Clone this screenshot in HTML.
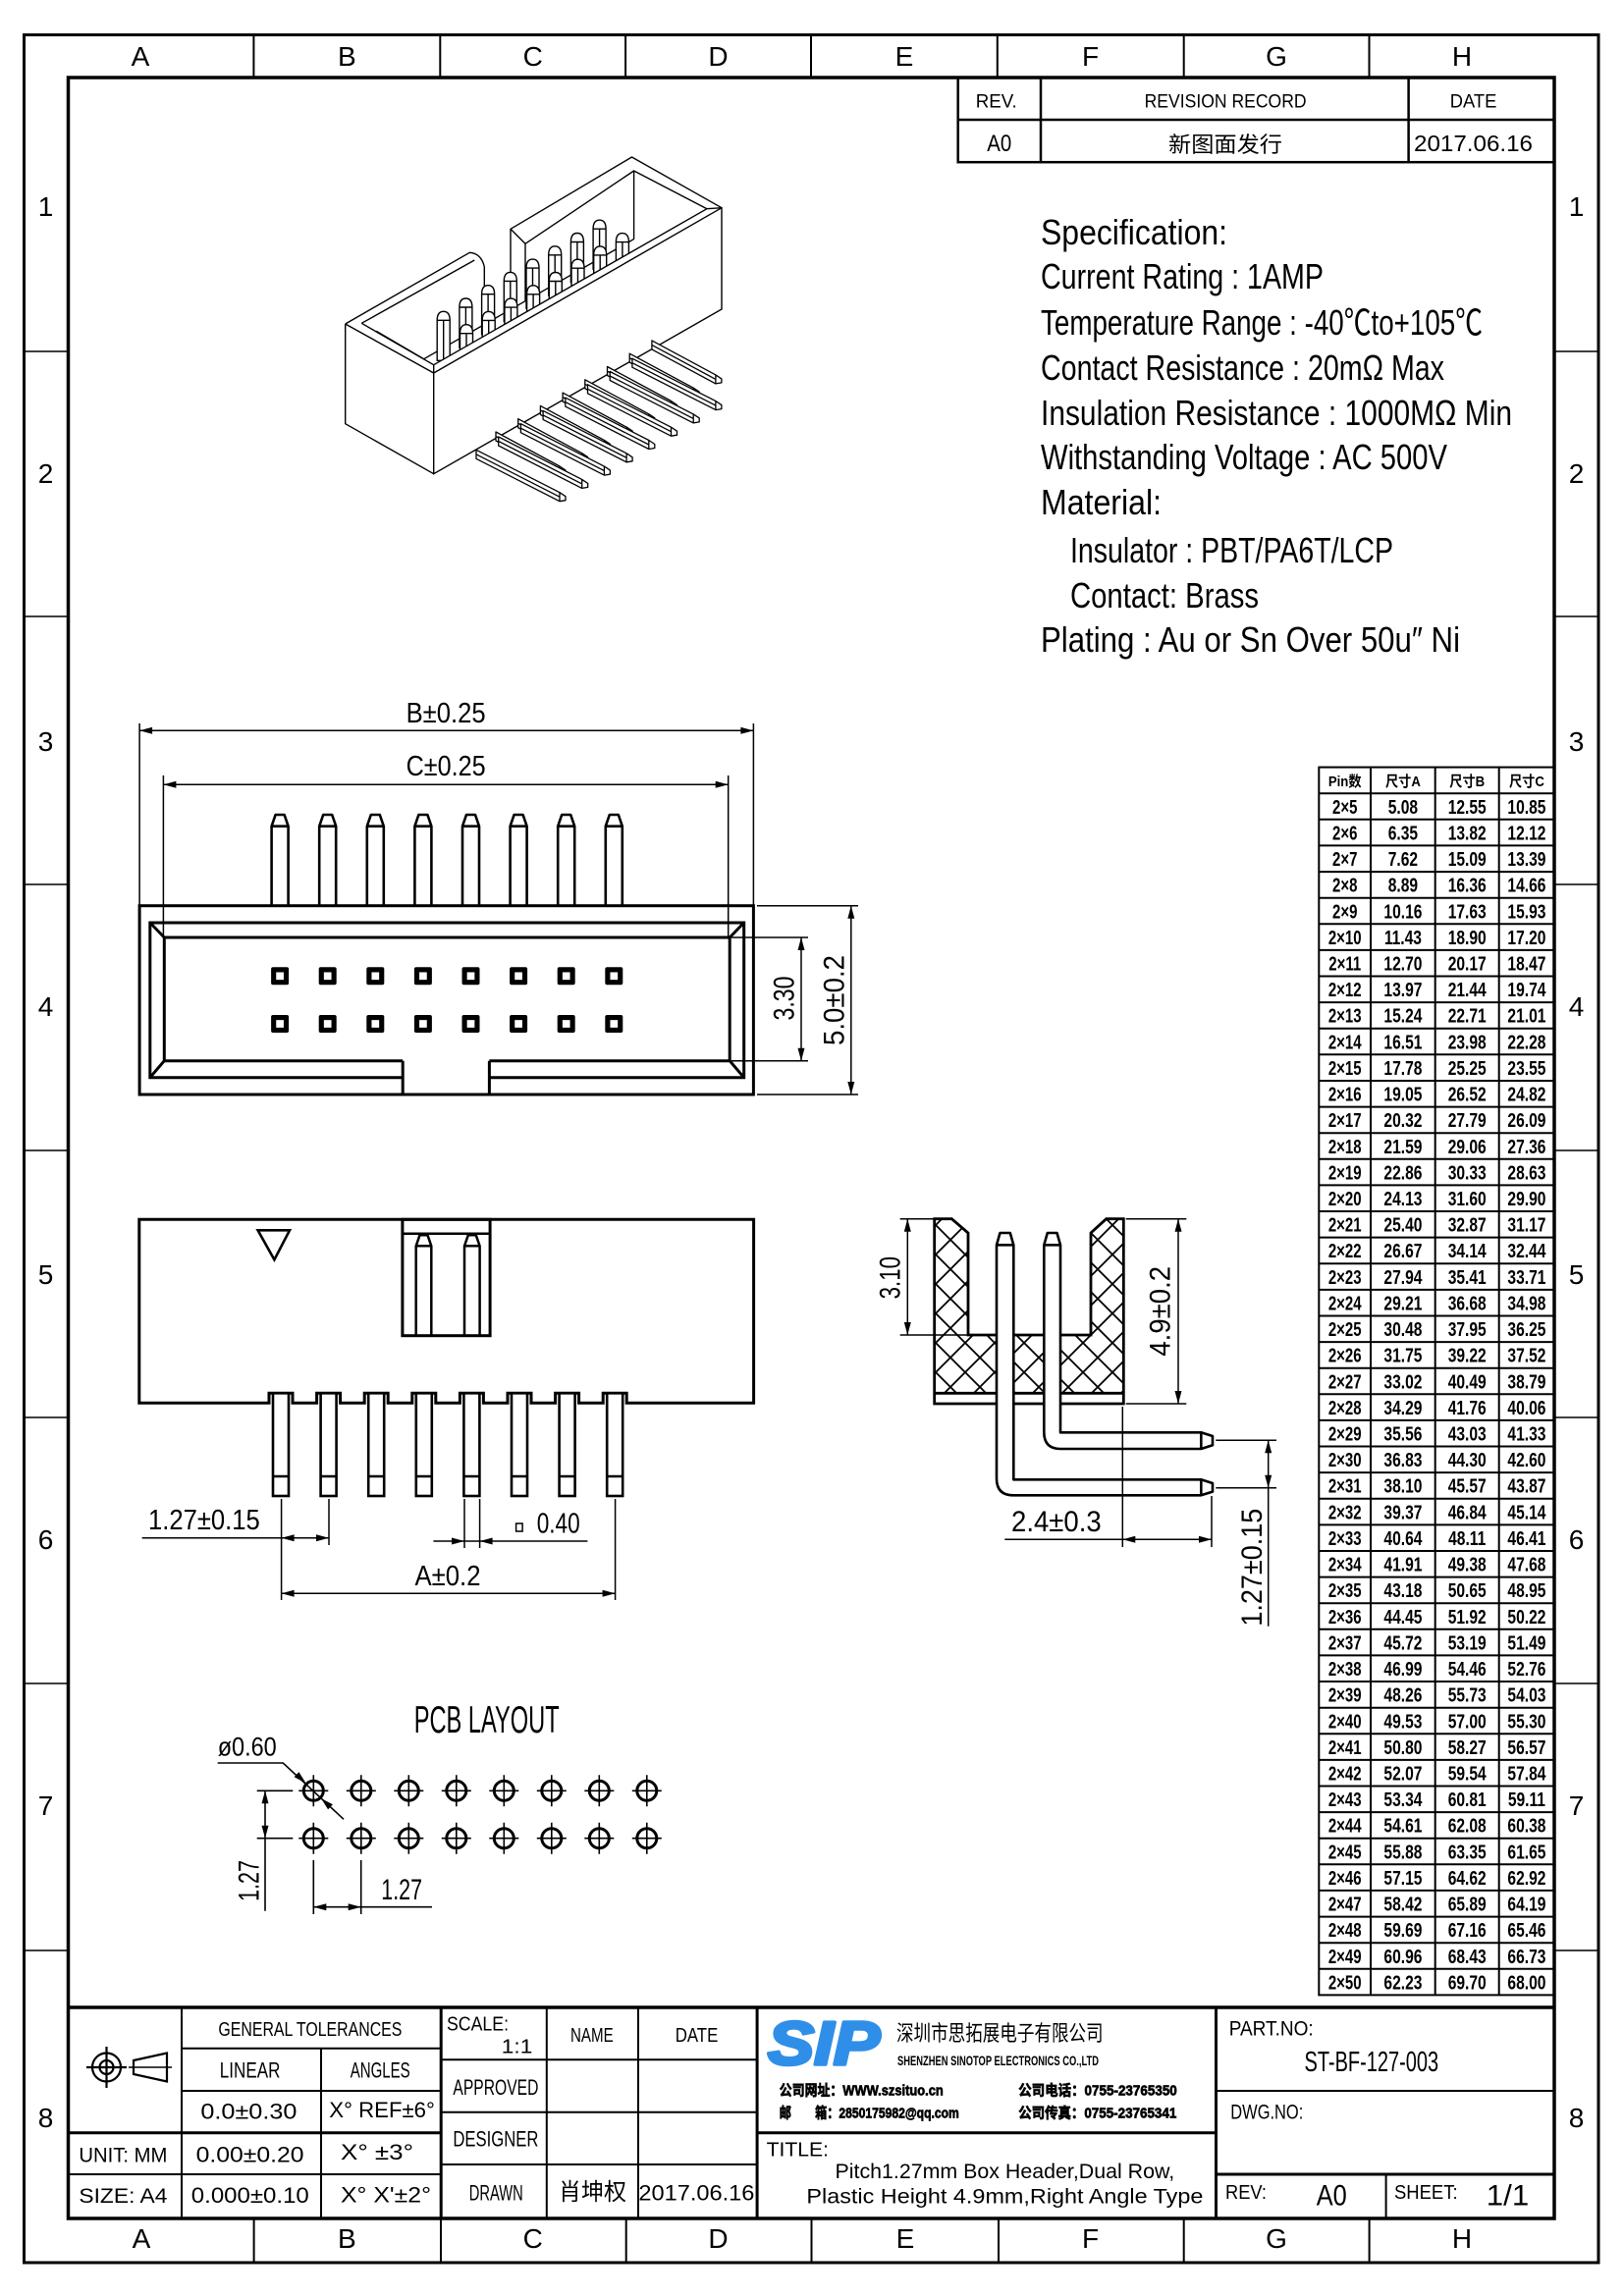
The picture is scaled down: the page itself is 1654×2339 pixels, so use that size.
<!DOCTYPE html>
<html><head><meta charset="utf-8"><style>
html,body{margin:0;padding:0;background:#fff;}
svg{display:block;}
text{font-family:"Liberation Sans","Noto Sans CJK SC",sans-serif;fill:#000;}
</style></head><body>
<svg xmlns="http://www.w3.org/2000/svg" width="1654" height="2339" viewBox="0 0 1654 2339">
<rect width="1654" height="2339" fill="#fff"/>

<!-- FRAME -->
<g fill="none" stroke="#000">
<rect x="24.5" y="35.5" width="1603.5" height="2269.5" stroke-width="3"/>
<rect x="69.5" y="79" width="1513.5" height="2181" stroke-width="3.5"/>
<path stroke-width="2" d="M258.4,35.5V79M448.3,35.5V79M637.1,35.5V79M826,35.5V79M1015.8,35.5V79M1205.7,35.5V79M1394.5,35.5V79
M258.6,2260V2305M449,2260V2305M637.7,2260V2305M826.5,2260V2305M1017,2260V2305M1205.7,2260V2305M1394.6,2260V2305"/>
<path stroke-width="1.6" d="M24.5,358H69.5M24.5,628H69.5M24.5,901H69.5M24.5,1172H69.5M24.5,1444H69.5M24.5,1715H69.5M24.5,1987H69.5
M1583,358H1628M1583,628H1628M1583,901H1628M1583,1172H1628M1583,1444H1628M1583,1715H1628M1583,1987H1628"/>
</g>
<g font-size="28" text-anchor="middle">
<text x="143" y="67">A</text><text x="353.4" y="67">B</text><text x="542.7" y="67">C</text><text x="731.5" y="67">D</text>
<text x="921" y="67">E</text><text x="1110.5" y="67">F</text><text x="1300" y="67">G</text><text x="1489" y="67">H</text>
<text x="144" y="2290">A</text><text x="353.4" y="2290">B</text><text x="542.7" y="2290">C</text><text x="731.5" y="2290">D</text>
<text x="922" y="2290">E</text><text x="1110.5" y="2290">F</text><text x="1300" y="2290">G</text><text x="1489" y="2290">H</text>
<text x="46.5" y="220">1</text><text x="46.5" y="492">2</text><text x="46.5" y="765">3</text><text x="46.5" y="1035">4</text>
<text x="46.5" y="1308">5</text><text x="46.5" y="1578">6</text><text x="46.5" y="1849">7</text><text x="46.5" y="2167">8</text>
<text x="1605.5" y="220">1</text><text x="1605.5" y="492">2</text><text x="1605.5" y="765">3</text><text x="1605.5" y="1035">4</text>
<text x="1605.5" y="1308">5</text><text x="1605.5" y="1578">6</text><text x="1605.5" y="1849">7</text><text x="1605.5" y="2167">8</text>
</g>

<!-- REVISION TABLE -->
<g fill="none" stroke="#000" stroke-width="2.5">
<rect x="975.7" y="79" width="607.3" height="86.2"/>
<path d="M975.7,122H1583M1060,79V165.2M1434.6,79V165.2"/>
</g>
<text x="993.7" y="109.4" font-size="19" textLength="42" lengthAdjust="spacingAndGlyphs">REV.</text>
<text x="1165.6" y="109.4" font-size="19" textLength="165" lengthAdjust="spacingAndGlyphs">REVISION RECORD</text>
<text x="1476.8" y="109.4" font-size="19" textLength="47.5" lengthAdjust="spacingAndGlyphs">DATE</text>
<text x="1005.3" y="154" font-size="24" textLength="25" lengthAdjust="spacingAndGlyphs">A0</text>
<text x="1190" y="155" font-size="22" textLength="116" lengthAdjust="spacingAndGlyphs">新图面发行</text>
<text x="1440" y="154" font-size="23" textLength="121" lengthAdjust="spacingAndGlyphs">2017.06.16</text>

<!-- SPECIFICATION -->
<g font-size="36">
<text x="1060" y="249" textLength="190" lengthAdjust="spacingAndGlyphs">Specification:</text>
<text x="1060" y="294" textLength="288" lengthAdjust="spacingAndGlyphs">Current Rating : 1AMP</text>
<text x="1060" y="341" textLength="450" lengthAdjust="spacingAndGlyphs">Temperature Range : -40℃to+105℃</text>
<text x="1060" y="387" textLength="411" lengthAdjust="spacingAndGlyphs">Contact Resistance : 20mΩ Max</text>
<text x="1060" y="433" textLength="480" lengthAdjust="spacingAndGlyphs">Insulation Resistance : 1000MΩ Min</text>
<text x="1060" y="478" textLength="414" lengthAdjust="spacingAndGlyphs">Withstanding Voltage : AC 500V</text>
<text x="1060" y="524" textLength="123" lengthAdjust="spacingAndGlyphs">Material:</text>
<text x="1090" y="573" textLength="329" lengthAdjust="spacingAndGlyphs">Insulator : PBT/PA6T/LCP</text>
<text x="1090" y="619" textLength="192" lengthAdjust="spacingAndGlyphs">Contact: Brass</text>
<text x="1060" y="664" textLength="427" lengthAdjust="spacingAndGlyphs">Plating : Au or Sn Over 50u″ Ni</text>
</g>

<!-- ISOMETRIC VIEW -->
<g fill="none" stroke="#000" stroke-width="1.4" stroke-linejoin="round">
<path d="M520,280V233.3L643.5,160L735,211.7M520,233.3L535,248.3V306.7M535,248.3L645.6,174L720,212.7M645.6,174V243.3M431.7,365.7L646,243.3"/>
<path d="M351.7,330L478.3,257.3Q490,258 493.3,271.7V296M368.3,329.3L483.3,265M368.3,329.3L441.7,371.7M383.3,337.3L431.7,365.7"/>
<path d="M351.7,330L441.7,380M351.7,330V431.7L441.7,482.7"/>
</g>
<g fill="#fff" stroke="#000" stroke-width="1.4">
<path d="M445.2,367.3V326.3Q445.2,317.3 451.7,317.3Q458.2,317.3 458.2,326.3V367.3ZM445.2,326.3H458.2M451.7,326.3V367.3"/>
<path d="M467.9,354V313Q467.9,304 474.4,304Q480.9,304 480.9,313V354ZM467.9,313H480.9M474.4,313V354"/>
<path d="M490.6,340.7V299.7Q490.6,290.7 497.1,290.7Q503.6,290.7 503.6,299.7V340.7ZM490.6,299.7H503.6M497.1,299.7V340.7"/>
<path d="M513.3,327.4V286.4Q513.3,277.4 519.8,277.4Q526.3,277.4 526.3,286.4V327.4ZM513.3,286.4H526.3M519.8,286.4V327.4"/>
<path d="M536,314.1V273.1Q536,264.1 542.5,264.1Q549,264.1 549,273.1V314.1ZM536,273.1H549M542.5,273.1V314.1"/>
<path d="M558.7,300.8V259.8Q558.7,250.8 565.2,250.8Q571.7,250.8 571.7,259.8V300.8ZM558.7,259.8H571.7M565.2,259.8V300.8"/>
<path d="M581.4,287.5V246.5Q581.4,237.5 587.9,237.5Q594.4,237.5 594.4,246.5V287.5ZM581.4,246.5H594.4M587.9,246.5V287.5"/>
<path d="M604.1,274.2V233.2Q604.1,224.2 610.6,224.2Q617.1,224.2 617.1,233.2V274.2ZM604.1,233.2H617.1M610.6,233.2V274.2"/>
<path d="M468.5,370.7V339.7Q468.5,330.7 475,330.7Q481.5,330.7 481.5,339.7V370.7ZM468.5,339.7H481.5M475,339.7V370.7"/>
<path d="M491.2,357.4V326.4Q491.2,317.4 497.7,317.4Q504.2,317.4 504.2,326.4V357.4ZM491.2,326.4H504.2M497.7,326.4V357.4"/>
<path d="M513.9,344.1V313.1Q513.9,304.1 520.4,304.1Q526.9,304.1 526.9,313.1V344.1ZM513.9,313.1H526.9M520.4,313.1V344.1"/>
<path d="M536.6,330.8V299.8Q536.6,290.8 543.1,290.8Q549.6,290.8 549.6,299.8V330.8ZM536.6,299.8H549.6M543.1,299.8V330.8"/>
<path d="M559.3,317.5V286.5Q559.3,277.5 565.8,277.5Q572.3,277.5 572.3,286.5V317.5ZM559.3,286.5H572.3M565.8,286.5V317.5"/>
<path d="M582,304.2V273.2Q582,264.2 588.5,264.2Q595,264.2 595,273.2V304.2ZM582,273.2H595M588.5,273.2V304.2"/>
<path d="M604.7,290.9V259.9Q604.7,250.9 611.2,250.9Q617.7,250.9 617.7,259.9V290.9ZM604.7,259.9H617.7M611.2,259.9V290.9"/>
<path d="M627.4,277.6V246.6Q627.4,237.6 633.9,237.6Q640.4,237.6 640.4,246.6V277.6ZM627.4,246.6H640.4M633.9,246.6V277.6"/>
<polygon points="441.7,371.7 720,212.7 735,211.7 735,315 441.7,482.7"/>
</g>
<path d="M441.7,380L735,211.7" stroke="#000" stroke-width="1.4" fill="none"/>
<g fill="#fff" stroke="#000" stroke-width="1.3" stroke-linejoin="round">
<path d="M663.9,346.9L728.9,381.9L734.9,385.9V389.9L728.9,390.9L663.9,355.9ZM663.9,351.4L728.9,386.4M728.9,381.9V390.9"/>
<path d="M641.2,360.2L706.2,395.2L712.2,399.2V403.2L706.2,404.2L641.2,369.2ZM641.2,364.7L706.2,399.7M706.2,395.2V404.2"/>
<path d="M618.5,373.5L683.5,408.5L689.5,412.5V416.5L683.5,417.5L618.5,382.5ZM618.5,378L683.5,413M683.5,408.5V417.5"/>
<path d="M595.8,386.8L660.8,421.8L666.8,425.8V429.8L660.8,430.8L595.8,395.8ZM595.8,391.3L660.8,426.3M660.8,421.8V430.8"/>
<path d="M573.1,400.1L638.1,435.1L644.1,439.1V443.1L638.1,444.1L573.1,409.1ZM573.1,404.6L638.1,439.6M638.1,435.1V444.1"/>
<path d="M550.4,413.4L615.4,448.4L621.4,452.4V456.4L615.4,457.4L550.4,422.4ZM550.4,417.9L615.4,452.9M615.4,448.4V457.4"/>
<path d="M527.7,426.7L592.7,461.7L598.7,465.7V469.7L592.7,470.7L527.7,435.7ZM527.7,431.2L592.7,466.2M592.7,461.7V470.7"/>
<path d="M505,440L570,475L576,479V483L570,484L505,449ZM505,444.5L570,479.5M570,475V484"/>
<path d="M643.9,365.2L728.9,408.6L734.9,412.6V416.6L728.9,417.6L643.9,374.2ZM643.9,369.7L728.9,413.1M728.9,408.6V417.6"/>
<path d="M621.2,378.5L706.2,421.9L712.2,425.9V429.9L706.2,430.9L621.2,387.5ZM621.2,383L706.2,426.4M706.2,421.9V430.9"/>
<path d="M598.5,391.8L683.5,435.2L689.5,439.2V443.2L683.5,444.2L598.5,400.8ZM598.5,396.3L683.5,439.7M683.5,435.2V444.2"/>
<path d="M575.8,405.1L660.8,448.5L666.8,452.5V456.5L660.8,457.5L575.8,414.1ZM575.8,409.6L660.8,453M660.8,448.5V457.5"/>
<path d="M553.1,418.4L638.1,461.8L644.1,465.8V469.8L638.1,470.8L553.1,427.4ZM553.1,422.9L638.1,466.3M638.1,461.8V470.8"/>
<path d="M530.4,431.7L615.4,475.1L621.4,479.1V483.1L615.4,484.1L530.4,440.7ZM530.4,436.2L615.4,479.6M615.4,475.1V484.1"/>
<path d="M507.7,445L592.7,488.4L598.7,492.4V496.4L592.7,497.4L507.7,454ZM507.7,449.5L592.7,492.9M592.7,488.4V497.4"/>
<path d="M485,458.3L570,501.7L576,505.7V509.7L570,510.7L485,467.3ZM485,462.8L570,506.2M570,501.7V510.7"/>
</g>

<!-- FRONT VIEW -->
<g fill="none" stroke="#000" stroke-width="1.5">
<path d="M142.1,737V922.7M767.4,737V922.7M142.1,744.3H767.4M166.4,790V955M741.7,790V955M166.4,799.3H741.7"/>
<path d="M745,955H823M745,1080.7H823M816,955V1080.7M771,922.7H874M771,1115H874M866.8,922.7V1115"/>
</g>
<g fill="#000">
<polygon points="142.1,744.3 155.1,740.8 155.1,747.8"/><polygon points="767.4,744.3 754.4,740.8 754.4,747.8"/>
<polygon points="166.4,799.3 179.4,795.8 179.4,802.8"/><polygon points="741.7,799.3 728.7,795.8 728.7,802.8"/>
<polygon points="816,955 812.5,968 819.5,968"/><polygon points="816,1080.7 812.5,1067.7 819.5,1067.7"/>
<polygon points="866.8,922.7 863.3,935.7 870.3,935.7"/><polygon points="866.8,1115 863.3,1102 870.3,1102"/>
</g>
<g fill="#fff" stroke="#000" stroke-width="2.6" stroke-linejoin="round">
<path d="M276.6,922.7V841.7L280.6,830H289.6L293.6,841.7V922.7M276.6,841.7H293.6"/>
<path d="M325.2,922.7V841.7L329.2,830H338.2L342.2,841.7V922.7M325.2,841.7H342.2"/>
<path d="M373.8,922.7V841.7L377.8,830H386.8L390.8,841.7V922.7M373.8,841.7H390.8"/>
<path d="M422.4,922.7V841.7L426.4,830H435.4L439.4,841.7V922.7M422.4,841.7H439.4"/>
<path d="M471,922.7V841.7L475,830H484L488,841.7V922.7M471,841.7H488"/>
<path d="M519.6,922.7V841.7L523.6,830H532.6L536.6,841.7V922.7M519.6,841.7H536.6"/>
<path d="M568.2,922.7V841.7L572.2,830H581.2L585.2,841.7V922.7M568.2,841.7H585.2"/>
<path d="M616.8,922.7V841.7L620.8,830H629.8L633.8,841.7V922.7M616.8,841.7H633.8"/>
</g>
<g fill="none" stroke="#000" stroke-width="3" stroke-linejoin="miter">
<rect x="142.1" y="922.7" width="625.3" height="192.3"/>
<path d="M410.2,1097.7H152.8V940H757.7V1097.7H498.4"/>
<path d="M410.2,1080.7H167.3V955H743.2V1080.7H498.4"/>
<path d="M152.8,940L167.3,955M757.7,940L743.2,955M152.8,1097.7L167.3,1080.7M757.7,1097.7L743.2,1080.7M410.2,1080.7V1115M498.4,1080.7V1115"/>
</g>
<g>
<g fill="#000"><rect x="276.1" y="985.3" width="18" height="18" rx="2"/><rect x="324.7" y="985.3" width="18" height="18" rx="2"/><rect x="373.3" y="985.3" width="18" height="18" rx="2"/><rect x="421.9" y="985.3" width="18" height="18" rx="2"/><rect x="470.5" y="985.3" width="18" height="18" rx="2"/><rect x="519.1" y="985.3" width="18" height="18" rx="2"/><rect x="567.7" y="985.3" width="18" height="18" rx="2"/><rect x="616.3" y="985.3" width="18" height="18" rx="2"/>
<rect x="276.1" y="1034" width="18" height="18" rx="2"/><rect x="324.7" y="1034" width="18" height="18" rx="2"/><rect x="373.3" y="1034" width="18" height="18" rx="2"/><rect x="421.9" y="1034" width="18" height="18" rx="2"/><rect x="470.5" y="1034" width="18" height="18" rx="2"/><rect x="519.1" y="1034" width="18" height="18" rx="2"/><rect x="567.7" y="1034" width="18" height="18" rx="2"/><rect x="616.3" y="1034" width="18" height="18" rx="2"/></g>
<g fill="#fff" stroke="#000" stroke-width="1.3"><rect x="280.6" y="989.8" width="9" height="9"/><rect x="329.2" y="989.8" width="9" height="9"/><rect x="377.8" y="989.8" width="9" height="9"/><rect x="426.4" y="989.8" width="9" height="9"/><rect x="475" y="989.8" width="9" height="9"/><rect x="523.6" y="989.8" width="9" height="9"/><rect x="572.2" y="989.8" width="9" height="9"/><rect x="620.8" y="989.8" width="9" height="9"/>
<rect x="280.6" y="1038.5" width="9" height="9"/><rect x="329.2" y="1038.5" width="9" height="9"/><rect x="377.8" y="1038.5" width="9" height="9"/><rect x="426.4" y="1038.5" width="9" height="9"/><rect x="475" y="1038.5" width="9" height="9"/><rect x="523.6" y="1038.5" width="9" height="9"/><rect x="572.2" y="1038.5" width="9" height="9"/><rect x="620.8" y="1038.5" width="9" height="9"/></g>
</g>
<text x="413.6" y="736" font-size="29" textLength="81" lengthAdjust="spacingAndGlyphs">B±0.25</text>
<text x="413.6" y="790" font-size="29" textLength="81" lengthAdjust="spacingAndGlyphs">C±0.25</text>
<text transform="translate(808.6,1017) rotate(-90)" text-anchor="middle" font-size="30" textLength="45" lengthAdjust="spacingAndGlyphs">3.30</text>
<text transform="translate(859.5,1019) rotate(-90)" text-anchor="middle" font-size="30" textLength="92" lengthAdjust="spacingAndGlyphs">5.0±0.2</text>

<!-- SIDE VIEW -->
<g fill="none" stroke="#000" stroke-width="3" stroke-linejoin="miter">
<path d="M141.8,1242.3V1429.3H274V1419.3H298V1429.3H322.6V1419.3H346.6V1429.3H371.2V1419.3H395.2V1429.3H419.8V1419.3H443.8V1429.3H468.4V1419.3H492.4V1429.3H517V1419.3H541V1429.3H565.6V1419.3H589.6V1429.3H614.2V1419.3H638.2V1429.3H767.6V1242.3Z"/>
<polygon points="262.6,1253.3 295,1253.3 279.4,1283.3" stroke-width="2.6"/>
<rect x="409.9" y="1242.3" width="89.2" height="118.4"/>
<path d="M409.9,1256.7H499.1" stroke-width="2.5"/>
<path stroke-width="2.5" d="M423.7,1360.7V1269.3L427.5,1258.3H435.5L439.3,1269.3V1360.7M423.7,1269.3H439.3M473,1360.7V1269.3L476.8,1258.3H484.8L488.6,1269.3V1360.7M473,1269.3H488.6"/>
</g>
<g fill="#fff" stroke="#000" stroke-width="2.6">
<rect x="278" y="1419.3" width="16" height="104.7"/><rect x="326.6" y="1419.3" width="16" height="104.7"/><rect x="375.2" y="1419.3" width="16" height="104.7"/><rect x="423.8" y="1419.3" width="16" height="104.7"/><rect x="472.4" y="1419.3" width="16" height="104.7"/><rect x="521" y="1419.3" width="16" height="104.7"/><rect x="569.6" y="1419.3" width="16" height="104.7"/><rect x="618.2" y="1419.3" width="16" height="104.7"/>
<path d="M278,1504H294M326.6,1504H342.6M375.2,1504H391.2M423.8,1504H439.8M472.4,1504H488.4M521,1504H537M569.6,1504H585.6M618.2,1504H634.2"/>
</g>
<g fill="none" stroke="#000" stroke-width="1.5">
<path d="M286.6,1527V1630M335,1527V1574M144.7,1566.7H335M473,1527V1577M488.6,1527V1577M441.4,1570H598.4M626.6,1527V1630M286.6,1623.3H626.6"/>
<rect x="525.6" y="1552" width="6.5" height="8"/>
</g>
<g fill="#000">
<polygon points="286.6,1566.7 299.6,1563.2 299.6,1570.2"/><polygon points="335,1566.7 322,1563.2 322,1570.2"/>
<polygon points="473,1570 460,1566.5 460,1573.5"/><polygon points="488.6,1570 501.6,1566.5 501.6,1573.5"/>
<polygon points="286.6,1623.3 299.6,1619.8 299.6,1626.8"/><polygon points="626.6,1623.3 613.6,1619.8 613.6,1626.8"/>
</g>
<text x="151" y="1558" font-size="29" textLength="113.7" lengthAdjust="spacingAndGlyphs">1.27±0.15</text>
<text x="546.7" y="1561.7" font-size="29" textLength="44" lengthAdjust="spacingAndGlyphs">0.40</text>
<text x="422.5" y="1615" font-size="29" textLength="67" lengthAdjust="spacingAndGlyphs">A±0.2</text>

<!-- RIGHT ANGLE SIDE VIEW -->
<defs>
<pattern id="hx" patternUnits="userSpaceOnUse" x="953" y="1248" width="30" height="30">
<path d="M0,0L30,30M30,0L0,30M-3,27L3,33M27,-3L33,3M-3,3L3,-3M27,33L33,27" stroke="#000" stroke-width="1.8" fill="none"/>
</pattern>
</defs>
<path d="M951.7,1241.7H969.3L986,1256V1360H1111V1256L1126.7,1241.7H1144.3V1419.3H951.7Z" fill="url(#hx)"/>
<g fill="none" stroke="#000" stroke-width="2.8" stroke-linejoin="miter">
<path d="M951.7,1241.7H969.3L986,1256V1360H1111V1256L1126.7,1241.7H1144.3V1430H951.7ZM951.7,1419.3H1144.3"/>
</g>
<g fill="#fff" stroke="#000" stroke-width="2.6" stroke-linejoin="round">
<path d="M1015,1268.3L1018.5,1256H1028.8L1032.3,1268.3V1507.3H1223.3L1235,1511V1519.6L1223.3,1523.3H1032Q1015,1523.3 1015,1506ZM1015,1268.3H1032.3M1223.3,1507.3V1523.3"/>
<path d="M1063.3,1268.3L1066.8,1256H1076.5L1080,1268.3V1459.3H1223.3L1235,1463V1472.3L1223.3,1476H1080Q1063.3,1476 1063.3,1459ZM1063.3,1268.3H1080M1223.3,1459.3V1476"/>
</g>
<g fill="none" stroke="#000" stroke-width="1.5">
<path d="M916.7,1241.7H951.7M916.7,1360H986M924.3,1241.7V1360M1146.7,1241.7H1208.3M1146.7,1430H1208.3M1200,1241.7V1430"/>
<path d="M1143.3,1433V1576M1234,1524V1576M1023.3,1568.3H1234M1238.3,1467.3H1300M1238.3,1515.7H1300M1291.7,1467.3V1656.7"/>
</g>
<g fill="#000">
<polygon points="924.3,1241.7 920.8,1254.7 927.8,1254.7"/><polygon points="924.3,1360 920.8,1347 927.8,1347"/>
<polygon points="1200,1241.7 1196.5,1254.7 1203.5,1254.7"/><polygon points="1200,1430 1196.5,1417 1203.5,1417"/>
<polygon points="1143.3,1568.3 1156.3,1564.8 1156.3,1571.8"/><polygon points="1234,1568.3 1221,1564.8 1221,1571.8"/>
<polygon points="1291.7,1467.3 1288.2,1480.3 1295.2,1480.3"/><polygon points="1291.7,1515.7 1288.2,1502.7 1295.2,1502.7"/>
</g>
<text transform="translate(916.7,1301.7) rotate(-90)" text-anchor="middle" font-size="30" textLength="43.3" lengthAdjust="spacingAndGlyphs">3.10</text>
<text transform="translate(1191.7,1335.8) rotate(-90)" text-anchor="middle" font-size="30" textLength="91.7" lengthAdjust="spacingAndGlyphs">4.9±0.2</text>
<text x="1030" y="1560" font-size="30" textLength="91.7" lengthAdjust="spacingAndGlyphs">2.4±0.3</text>
<text transform="translate(1285,1596.7) rotate(-90)" text-anchor="middle" font-size="30" textLength="120" lengthAdjust="spacingAndGlyphs">1.27±0.15</text>

<!-- PCB LAYOUT -->
<text x="421.7" y="1765" font-size="39" textLength="148" lengthAdjust="spacingAndGlyphs">PCB LAYOUT</text>
<text x="221.7" y="1788.3" font-size="27" textLength="60" lengthAdjust="spacingAndGlyphs">ø0.60</text>
<g fill="none" stroke="#000" stroke-width="3">
<circle cx="319.3" cy="1824.3" r="10"/><circle cx="367.8" cy="1824.3" r="10"/><circle cx="416.3" cy="1824.3" r="10"/><circle cx="464.8" cy="1824.3" r="10"/><circle cx="513.3" cy="1824.3" r="10"/><circle cx="561.8" cy="1824.3" r="10"/><circle cx="610.3" cy="1824.3" r="10"/><circle cx="658.8" cy="1824.3" r="10"/>
<circle cx="319.3" cy="1872.7" r="10"/><circle cx="367.8" cy="1872.7" r="10"/><circle cx="416.3" cy="1872.7" r="10"/><circle cx="464.8" cy="1872.7" r="10"/><circle cx="513.3" cy="1872.7" r="10"/><circle cx="561.8" cy="1872.7" r="10"/><circle cx="610.3" cy="1872.7" r="10"/><circle cx="658.8" cy="1872.7" r="10"/>
</g>
<g fill="none" stroke="#000" stroke-width="1.6">
<path d="M304.3,1824.3h30M319.3,1808.3v32M352.8,1824.3h30M367.8,1808.3v32M401.3,1824.3h30M416.3,1808.3v32M449.8,1824.3h30M464.8,1808.3v32M498.3,1824.3h30M513.3,1808.3v32M546.8,1824.3h30M561.8,1808.3v32M595.3,1824.3h30M610.3,1808.3v32M643.8,1824.3h30M658.8,1808.3v32"/>
<path d="M304.3,1872.7h30M319.3,1856.7v32M352.8,1872.7h30M367.8,1856.7v32M401.3,1872.7h30M416.3,1856.7v32M449.8,1872.7h30M464.8,1856.7v32M498.3,1872.7h30M513.3,1856.7v32M546.8,1872.7h30M561.8,1856.7v32M595.3,1872.7h30M610.3,1856.7v32M643.8,1872.7h30M658.8,1856.7v32"/>
<path d="M221.7,1796H288.3L350,1853.3M261.7,1824.3H298.3M261.7,1872.7H298.3M270,1824.3V1946.7M319.3,1895V1950M367.7,1895V1950M319.3,1942.7H440"/>
</g>
<g fill="#000">
<polygon points="311.5,1816.5 299.6,1810.3 304.4,1805.1"/><polygon points="327,1832 334.1,1843.4 338.9,1838.2"/>
<polygon points="270,1824.3 266.5,1837.3 273.5,1837.3"/><polygon points="270,1872.7 266.5,1859.7 273.5,1859.7"/>
<polygon points="319.3,1942.7 332.3,1939.2 332.3,1946.2"/><polygon points="367.7,1942.7 354.7,1939.2 354.7,1946.2"/>
</g>
<text transform="translate(263.3,1916) rotate(-90)" text-anchor="middle" font-size="30" textLength="41.7" lengthAdjust="spacingAndGlyphs">1.27</text>
<text x="388.3" y="1935" font-size="30" textLength="41.7" lengthAdjust="spacingAndGlyphs">1.27</text>

<!-- DIMENSION TABLE -->
<g fill="none" stroke="#000" stroke-width="2">
<rect x="1343.3" y="781.6" width="239.7" height="1250.8"/>
<path d="M1396,781.6V2032.4M1461.7,781.6V2032.4M1526.7,781.6V2032.4"/>
<path d="M1343.3,808.2H1583M1343.3,834.8H1583M1343.3,861.4H1583M1343.3,888.1H1583M1343.3,914.7H1583M1343.3,941.3H1583M1343.3,967.9H1583M1343.3,994.5H1583M1343.3,1021.1H1583M1343.3,1047.7H1583M1343.3,1074.3H1583M1343.3,1101H1583M1343.3,1127.6H1583M1343.3,1154.2H1583M1343.3,1180.8H1583M1343.3,1207.4H1583M1343.3,1234H1583M1343.3,1260.6H1583M1343.3,1287.2H1583M1343.3,1313.9H1583M1343.3,1340.5H1583M1343.3,1367.1H1583M1343.3,1393.7H1583M1343.3,1420.3H1583M1343.3,1446.9H1583M1343.3,1473.5H1583M1343.3,1500.1H1583M1343.3,1526.8H1583M1343.3,1553.4H1583M1343.3,1580H1583M1343.3,1606.6H1583M1343.3,1633.2H1583M1343.3,1659.8H1583M1343.3,1686.4H1583M1343.3,1713H1583M1343.3,1739.7H1583M1343.3,1766.3H1583M1343.3,1792.9H1583M1343.3,1819.5H1583M1343.3,1846.1H1583M1343.3,1872.7H1583M1343.3,1899.3H1583M1343.3,1925.9H1583M1343.3,1952.6H1583M1343.3,1979.2H1583M1343.3,2005.8H1583"/>
</g>
<g font-weight="bold" text-anchor="middle">
<g font-size="15">
<g transform="translate(1369.7,0) scale(0.88,1)"><text x="0" y="801">Pin数</text></g>
<g transform="translate(1428.9,0) scale(0.88,1)"><text x="0" y="801">尺寸A</text></g>
<g transform="translate(1494.2,0) scale(0.88,1)"><text x="0" y="801">尺寸B</text></g>
<g transform="translate(1554.9,0) scale(0.88,1)"><text x="0" y="801">尺寸C</text></g>
</g>
<g font-size="20" transform="translate(1369.7,0) scale(0.75,1)">
<text x="0" y="828.8">2×5</text><text x="0" y="855.4">2×6</text><text x="0" y="882">2×7</text><text x="0" y="908.7">2×8</text><text x="0" y="935.3">2×9</text><text x="0" y="961.9">2×10</text><text x="0" y="988.5">2×11</text><text x="0" y="1015.1">2×12</text><text x="0" y="1041.7">2×13</text><text x="0" y="1068.3">2×14</text><text x="0" y="1094.9">2×15</text><text x="0" y="1121.6">2×16</text><text x="0" y="1148.2">2×17</text><text x="0" y="1174.8">2×18</text><text x="0" y="1201.4">2×19</text><text x="0" y="1228">2×20</text><text x="0" y="1254.6">2×21</text><text x="0" y="1281.2">2×22</text><text x="0" y="1307.8">2×23</text><text x="0" y="1334.5">2×24</text><text x="0" y="1361.1">2×25</text><text x="0" y="1387.7">2×26</text><text x="0" y="1414.3">2×27</text><text x="0" y="1440.9">2×28</text><text x="0" y="1467.5">2×29</text><text x="0" y="1494.1">2×30</text><text x="0" y="1520.7">2×31</text><text x="0" y="1547.4">2×32</text><text x="0" y="1574">2×33</text><text x="0" y="1600.6">2×34</text><text x="0" y="1627.2">2×35</text><text x="0" y="1653.8">2×36</text><text x="0" y="1680.4">2×37</text><text x="0" y="1707">2×38</text><text x="0" y="1733.6">2×39</text><text x="0" y="1760.3">2×40</text><text x="0" y="1786.9">2×41</text><text x="0" y="1813.5">2×42</text><text x="0" y="1840.1">2×43</text><text x="0" y="1866.7">2×44</text><text x="0" y="1893.3">2×45</text><text x="0" y="1919.9">2×46</text><text x="0" y="1946.5">2×47</text><text x="0" y="1973.2">2×48</text><text x="0" y="1999.8">2×49</text><text x="0" y="2026.4">2×50</text>
</g>
<g font-size="20" transform="translate(1428.9,0) scale(0.78,1)">
<text x="0" y="828.8">5.08</text><text x="0" y="855.4">6.35</text><text x="0" y="882">7.62</text><text x="0" y="908.7">8.89</text><text x="0" y="935.3">10.16</text><text x="0" y="961.9">11.43</text><text x="0" y="988.5">12.70</text><text x="0" y="1015.1">13.97</text><text x="0" y="1041.7">15.24</text><text x="0" y="1068.3">16.51</text><text x="0" y="1094.9">17.78</text><text x="0" y="1121.6">19.05</text><text x="0" y="1148.2">20.32</text><text x="0" y="1174.8">21.59</text><text x="0" y="1201.4">22.86</text><text x="0" y="1228">24.13</text><text x="0" y="1254.6">25.40</text><text x="0" y="1281.2">26.67</text><text x="0" y="1307.8">27.94</text><text x="0" y="1334.5">29.21</text><text x="0" y="1361.1">30.48</text><text x="0" y="1387.7">31.75</text><text x="0" y="1414.3">33.02</text><text x="0" y="1440.9">34.29</text><text x="0" y="1467.5">35.56</text><text x="0" y="1494.1">36.83</text><text x="0" y="1520.7">38.10</text><text x="0" y="1547.4">39.37</text><text x="0" y="1574">40.64</text><text x="0" y="1600.6">41.91</text><text x="0" y="1627.2">43.18</text><text x="0" y="1653.8">44.45</text><text x="0" y="1680.4">45.72</text><text x="0" y="1707">46.99</text><text x="0" y="1733.6">48.26</text><text x="0" y="1760.3">49.53</text><text x="0" y="1786.9">50.80</text><text x="0" y="1813.5">52.07</text><text x="0" y="1840.1">53.34</text><text x="0" y="1866.7">54.61</text><text x="0" y="1893.3">55.88</text><text x="0" y="1919.9">57.15</text><text x="0" y="1946.5">58.42</text><text x="0" y="1973.2">59.69</text><text x="0" y="1999.8">60.96</text><text x="0" y="2026.4">62.23</text>
</g>
<g font-size="20" transform="translate(1494.2,0) scale(0.78,1)">
<text x="0" y="828.8">12.55</text><text x="0" y="855.4">13.82</text><text x="0" y="882">15.09</text><text x="0" y="908.7">16.36</text><text x="0" y="935.3">17.63</text><text x="0" y="961.9">18.90</text><text x="0" y="988.5">20.17</text><text x="0" y="1015.1">21.44</text><text x="0" y="1041.7">22.71</text><text x="0" y="1068.3">23.98</text><text x="0" y="1094.9">25.25</text><text x="0" y="1121.6">26.52</text><text x="0" y="1148.2">27.79</text><text x="0" y="1174.8">29.06</text><text x="0" y="1201.4">30.33</text><text x="0" y="1228">31.60</text><text x="0" y="1254.6">32.87</text><text x="0" y="1281.2">34.14</text><text x="0" y="1307.8">35.41</text><text x="0" y="1334.5">36.68</text><text x="0" y="1361.1">37.95</text><text x="0" y="1387.7">39.22</text><text x="0" y="1414.3">40.49</text><text x="0" y="1440.9">41.76</text><text x="0" y="1467.5">43.03</text><text x="0" y="1494.1">44.30</text><text x="0" y="1520.7">45.57</text><text x="0" y="1547.4">46.84</text><text x="0" y="1574">48.11</text><text x="0" y="1600.6">49.38</text><text x="0" y="1627.2">50.65</text><text x="0" y="1653.8">51.92</text><text x="0" y="1680.4">53.19</text><text x="0" y="1707">54.46</text><text x="0" y="1733.6">55.73</text><text x="0" y="1760.3">57.00</text><text x="0" y="1786.9">58.27</text><text x="0" y="1813.5">59.54</text><text x="0" y="1840.1">60.81</text><text x="0" y="1866.7">62.08</text><text x="0" y="1893.3">63.35</text><text x="0" y="1919.9">64.62</text><text x="0" y="1946.5">65.89</text><text x="0" y="1973.2">67.16</text><text x="0" y="1999.8">68.43</text><text x="0" y="2026.4">69.70</text>
</g>
<g font-size="20" transform="translate(1554.9,0) scale(0.78,1)">
<text x="0" y="828.8">10.85</text><text x="0" y="855.4">12.12</text><text x="0" y="882">13.39</text><text x="0" y="908.7">14.66</text><text x="0" y="935.3">15.93</text><text x="0" y="961.9">17.20</text><text x="0" y="988.5">18.47</text><text x="0" y="1015.1">19.74</text><text x="0" y="1041.7">21.01</text><text x="0" y="1068.3">22.28</text><text x="0" y="1094.9">23.55</text><text x="0" y="1121.6">24.82</text><text x="0" y="1148.2">26.09</text><text x="0" y="1174.8">27.36</text><text x="0" y="1201.4">28.63</text><text x="0" y="1228">29.90</text><text x="0" y="1254.6">31.17</text><text x="0" y="1281.2">32.44</text><text x="0" y="1307.8">33.71</text><text x="0" y="1334.5">34.98</text><text x="0" y="1361.1">36.25</text><text x="0" y="1387.7">37.52</text><text x="0" y="1414.3">38.79</text><text x="0" y="1440.9">40.06</text><text x="0" y="1467.5">41.33</text><text x="0" y="1494.1">42.60</text><text x="0" y="1520.7">43.87</text><text x="0" y="1547.4">45.14</text><text x="0" y="1574">46.41</text><text x="0" y="1600.6">47.68</text><text x="0" y="1627.2">48.95</text><text x="0" y="1653.8">50.22</text><text x="0" y="1680.4">51.49</text><text x="0" y="1707">52.76</text><text x="0" y="1733.6">54.03</text><text x="0" y="1760.3">55.30</text><text x="0" y="1786.9">56.57</text><text x="0" y="1813.5">57.84</text><text x="0" y="1840.1">59.11</text><text x="0" y="1866.7">60.38</text><text x="0" y="1893.3">61.65</text><text x="0" y="1919.9">62.92</text><text x="0" y="1946.5">64.19</text><text x="0" y="1973.2">65.46</text><text x="0" y="1999.8">66.73</text><text x="0" y="2026.4">68.00</text>
</g>
</g>

<!-- TITLE BLOCK -->
<g fill="none" stroke="#000">
<path stroke-width="3.5" d="M69.5,2045H1583"/>
<path stroke-width="3" d="M449.2,2045V2260M771.1,2045V2260M1238.5,2045V2260M69.5,2172.7H449.2M771.1,2172.7H1238.5M1238.5,2215H1583"/>
<path stroke-width="2" d="M185,2045V2260M327,2086.7V2260M185,2086.7H449.2M185,2130H449.2M69.5,2215H449.2M556.8,2045V2260M650,2045V2260M449.2,2098.3H771.1M449.2,2151.7H771.1M449.2,2205H771.1M1238.5,2130H1583M1411.6,2215V2260"/>
<g stroke-width="2.2">
<circle cx="108.5" cy="2106" r="14.5"/><circle cx="108.5" cy="2106" r="7"/>
<path d="M88,2106H129M108.5,2085V2127"/>
<path d="M136,2099L170,2091.5V2120.5L136,2113Z"/>
<path d="M131,2106H175" stroke-width="1.6"/>
</g>
</g>
<text x="222.4" y="2074" font-size="20" textLength="187" lengthAdjust="spacingAndGlyphs">GENERAL TOLERANCES</text>
<text x="223.8" y="2116.7" font-size="22" textLength="61.6" lengthAdjust="spacingAndGlyphs">LINEAR</text>
<text x="356.7" y="2116.7" font-size="22" textLength="61" lengthAdjust="spacingAndGlyphs">ANGLES</text>
<text x="204.4" y="2158.3" font-size="22" textLength="98" lengthAdjust="spacingAndGlyphs">0.0±0.30</text>
<text x="335.3" y="2157" font-size="22" textLength="107.6" lengthAdjust="spacingAndGlyphs">X° REF±6°</text>
<text x="80.4" y="2202.7" font-size="21" textLength="90" lengthAdjust="spacingAndGlyphs">UNIT: MM</text>
<text x="199.6" y="2202.7" font-size="22" textLength="110" lengthAdjust="spacingAndGlyphs">0.00±0.20</text>
<text x="347" y="2200" font-size="22" textLength="74" lengthAdjust="spacingAndGlyphs">X° ±3°</text>
<text x="80.4" y="2244" font-size="21" textLength="90" lengthAdjust="spacingAndGlyphs">SIZE: A4</text>
<text x="194.8" y="2244" font-size="22" textLength="120" lengthAdjust="spacingAndGlyphs">0.000±0.10</text>
<text x="347" y="2243.3" font-size="22" textLength="92" lengthAdjust="spacingAndGlyphs">X° X'±2°</text>
<text x="455" y="2068.3" font-size="20" textLength="63" lengthAdjust="spacingAndGlyphs">SCALE:</text>
<text x="510.8" y="2091.7" font-size="20" textLength="31.5" lengthAdjust="spacingAndGlyphs">1:1</text>
<text x="581" y="2080" font-size="20" textLength="43.7" lengthAdjust="spacingAndGlyphs">NAME</text>
<text x="687.7" y="2080" font-size="20" textLength="43.6" lengthAdjust="spacingAndGlyphs">DATE</text>
<text x="461.4" y="2134" font-size="22" textLength="87" lengthAdjust="spacingAndGlyphs">APPROVED</text>
<text x="461.4" y="2186.7" font-size="22" textLength="87" lengthAdjust="spacingAndGlyphs">DESIGNER</text>
<text x="477.8" y="2241.7" font-size="22" textLength="55" lengthAdjust="spacingAndGlyphs">DRAWN</text>
<text x="569" y="2241" font-size="24" textLength="69" lengthAdjust="spacingAndGlyphs">肖坤权</text>
<text x="650.4" y="2241.7" font-size="22" textLength="118" lengthAdjust="spacingAndGlyphs">2017.06.16</text>

<text x="782" y="2103" font-size="62" font-weight="bold" font-style="italic" style="fill:#2F8FE8;stroke:#2F8FE8;stroke-width:3.5;stroke-linejoin:round" textLength="114" lengthAdjust="spacingAndGlyphs">SIP</text>
<text x="913" y="2079" font-size="22" textLength="210.6" lengthAdjust="spacingAndGlyphs">深圳市思拓展电子有限公司</text>
<text x="914" y="2104" font-size="14" font-weight="bold" textLength="205" lengthAdjust="spacingAndGlyphs">SHENZHEN SINOTOP ELECTRONICS CO.,LTD</text>
<g font-size="15" font-weight="bold" style="stroke:#000;stroke-width:0.7">
<text x="793.8" y="2134.5" textLength="167" lengthAdjust="spacingAndGlyphs">公司网址：WWW.szsituo.cn</text>
<text x="793.8" y="2157.5" textLength="183" lengthAdjust="spacingAndGlyphs">邮　　箱：2850175982@qq.com</text>
<text x="1037.3" y="2134.5" textLength="161.5" lengthAdjust="spacingAndGlyphs">公司电话：0755-23765350</text>
<text x="1037.3" y="2157.5" textLength="161" lengthAdjust="spacingAndGlyphs">公司传真：0755-23765341</text>
</g>
<text x="780.6" y="2196.7" font-size="20" textLength="63.4" lengthAdjust="spacingAndGlyphs">TITLE:</text>
<text x="850.5" y="2219" font-size="21" textLength="345.7" lengthAdjust="spacingAndGlyphs">Pitch1.27mm Box Header,Dual Row,</text>
<text x="821.4" y="2244.5" font-size="21" textLength="404" lengthAdjust="spacingAndGlyphs">Plastic Height 4.9mm,Right Angle Type</text>
<text x="1251.7" y="2073.3" font-size="21" textLength="86" lengthAdjust="spacingAndGlyphs">PART.NO:</text>
<text x="1328.5" y="2110" font-size="29" textLength="136.6" lengthAdjust="spacingAndGlyphs">ST-BF-127-003</text>
<text x="1253.3" y="2158.3" font-size="21" textLength="74" lengthAdjust="spacingAndGlyphs">DWG.NO:</text>
<text x="1248" y="2240" font-size="20" textLength="42" lengthAdjust="spacingAndGlyphs">REV:</text>
<text x="1340.7" y="2246.7" font-size="30" textLength="31" lengthAdjust="spacingAndGlyphs">A0</text>
<text x="1420" y="2240" font-size="20" textLength="64.6" lengthAdjust="spacingAndGlyphs">SHEET:</text>
<text x="1513.8" y="2246.7" font-size="30" textLength="43.4" lengthAdjust="spacingAndGlyphs">1/1</text>
</svg>
</body></html>
